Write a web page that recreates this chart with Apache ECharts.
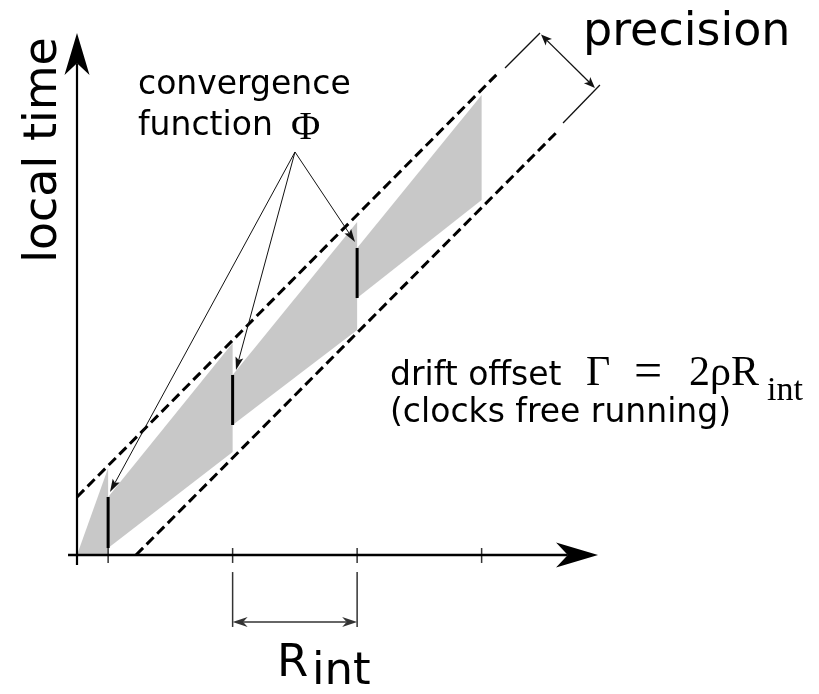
<!DOCTYPE html>
<html>
<head>
<meta charset="utf-8">
<script src="https://cdn.jsdelivr.net/npm/echarts@6/dist/echarts.min.js"></script>
<style>html,body{margin:0;padding:0;background:#fff}#c{width:819px;height:694px}</style>
</head>
<body>
<div id="c"></div>
<script>
// ---- diagram data (units: one resynchronisation interval R_int = 1) ----
const syncTimes = [0.25, 1.25, 2.25, 3.25];          // x-axis ticks
const convTop = [0.466, 1.446, 2.466];                 // convergence function: top of step
const convBot = [0.056, 1.044, 2.064];                 // convergence function: bottom of step
const bandT0 = [0, 0.25, 1.25, 2.25];
const bandT1 = [0.25, 1.25, 2.25, 3.25];
const bandTop0 = [0, 0.466, 1.446, 2.466];
const bandTop1 = [0.699, 1.703, 2.675, 3.695];
const bandBot0 = [0, 0.056, 1.044, 2.064];
const bandBot1 = [0, 0.827, 1.807, 2.851];
const upperBound = [[0, 0.466], [3.382, 3.871]];
const upperExt = [[3.438, 3.911], [3.719, 4.193]];
const lowerBound = [[0.474, 0], [3.855, 3.398]];
const lowerExt = [[3.904, 3.47], [4.2, 3.775]];
const precisionArrow = [[3.727, 4.18], [4.16, 3.752]];
const phiAnchor = [1.751, 3.237];
const phiTargets = [[0.265, 0.506], [1.277, 1.486], [2.233, 2.514]];
const xAxisLine = [[-0.072, 0], [4.185, 0]];
const yAxisLine = [[0, -0.08], [0, 4.193]];
const tickRange = [-0.064, 0.056];
const rintFrom = 1.25, rintTo = 2.25;
const rintRange = [-0.578, -0.137];
const rintLevel = -0.538;

const U = 124.5;
const xMin = -77 / U, xMax = (819 - 77) / U;
const yMin = -(694 - 555) / U, yMax = 555 / U;

function segSeries(segs, opt) {
  return {
    type: 'custom', coordinateSystem: 'cartesian2d', silent: true, clip: false,
    data: segs.map(s => [s[0][0], s[0][1], s[1][0], s[1][1]]),
    encode: { x: [0, 2], y: [1, 3] },
    renderItem: function (params, api) {
      const a = api.coord([api.value(0), api.value(1)]);
      const b = api.coord([api.value(2), api.value(3)]);
      const dx = b[0] - a[0], dy = b[1] - a[1];
      const L = Math.hypot(dx, dy), ux = dx / L, uy = dy / L, nx = -uy, ny = ux;
      const children = [];
      let p1 = a.slice(), p2 = b.slice();
      function head(tip, dirx, diry) {
        const h = opt.head;
        const bx = tip[0] - dirx * h.len, by = tip[1] - diry * h.len;
        return { type: 'polygon', shape: { points: [tip, [bx + nx * h.hw, by + ny * h.hw],
          [tip[0] - dirx * h.len * h.notch, tip[1] - diry * h.len * h.notch], [bx - nx * h.hw, by - ny * h.hw]] },
          style: { fill: opt.color } };
      }
      if (opt.end) { children.push(head(b, ux, uy)); p2 = [b[0] - ux * opt.head.len * opt.head.notch, b[1] - uy * opt.head.len * opt.head.notch]; }
      if (opt.start) { children.push(head(a, -ux, -uy)); p1 = [a[0] + ux * opt.head.len * opt.head.notch, a[1] + uy * opt.head.len * opt.head.notch]; }
      children.unshift({ type: 'line', shape: { x1: p1[0], y1: p1[1], x2: p2[0], y2: p2[1] },
        style: { stroke: opt.color, lineWidth: opt.width, lineDash: opt.dash || null, lineCap: opt.cap || 'butt' } });
      return { type: 'group', children: children };
    }
  };
}

const bandSeries = {
  type: 'custom', coordinateSystem: 'cartesian2d', silent: true, clip: false,
  data: bandT0.map((t, i) => [t, bandT1[i], bandTop0[i], bandTop1[i], bandBot0[i], bandBot1[i]]),
  encode: { x: [0, 1], y: [2, 3, 4, 5] },
  renderItem: function (params, api) {
    const pts = [[api.value(0), api.value(4)], [api.value(0), api.value(2)], [api.value(1), api.value(3)], [api.value(1), api.value(5)]]
      .map(p => api.coord(p));
    return { type: 'polygon', shape: { points: pts }, style: { fill: '#c8c8c8' } };
  }
};

const smallHead = { len: 13, hw: 4, notch: 0.8 };
const precHead = { len: 11, hw: 4.5, notch: 0.75 };
const dimHead = { len: 15, hw: 5, notch: 0.7 };
const axisHead = { len: 42, hw: 12.5, notch: 0.72 };

const series = [
  bandSeries,
  segSeries([upperBound, lowerBound], { color: '#000', width: 3, dash: [10, 5] }),
  segSeries([upperExt, lowerExt], { color: '#111', width: 1.3 }),
  segSeries([precisionArrow], { color: '#111', width: 1.3, start: true, end: true, head: precHead }),
  segSeries(syncTimes.slice(0, 3).map((t, i) => [[t, convBot[i]], [t, convTop[i]]]), { color: '#000', width: 3 }),
  segSeries(phiTargets.map(p => [phiAnchor, p]), { color: '#111', width: 1, end: true, head: smallHead }),
  segSeries(syncTimes.map(t => [[t, tickRange[0]], [t, tickRange[1]]]), { color: '#333', width: 1.5 }),
  segSeries([[[rintFrom, rintRange[0]], [rintFrom, rintRange[1]]], [[rintTo, rintRange[0]], [rintTo, rintRange[1]]]], { color: '#333', width: 1.5 }),
  segSeries([[[rintFrom, rintLevel], [rintTo, rintLevel]]], { color: '#333', width: 1.5, start: true, end: true, head: dimHead }),
  segSeries([xAxisLine], { color: '#000', width: 2.6, end: true, head: axisHead }),
  segSeries([yAxisLine], { color: '#000', width: 2.2, end: true, head: axisHead })
];

const sans = 'DejaVu Sans', serif = 'Liberation Serif';
function txt(text, x, y, size, font, extra) {
  return Object.assign({ type: 'text', x: x, y: y, silent: true,
    style: { text: text, fontSize: size, fontFamily: font, fill: '#000', align: 'left', verticalAlign: 'middle' } }, extra || {});
}
const graphic = [
  txt('local time', 44, 150, 46, sans, { rotation: Math.PI / 2, style: { text: 'local time', fontSize: 46, fontFamily: sans, fill: '#000', align: 'center', verticalAlign: 'middle' } }),
  txt('precision', 583, 33, 46, sans),
  txt('convergence', 138, 85.5, 33, sans),
  txt('function', 138, 126.5, 33, sans),
  txt('\u03A6', 291, 128, 40, serif),
  txt('drift offset', 390, 376.5, 33, sans),
  txt('\u0393', 586, 374, 42, serif),
  txt('=', 634, 374, 50, serif),
  txt('2\u03C1R', 689, 374, 42, serif),
  txt('int', 767, 391, 34, serif),
  txt('(clocks free running)', 390, 413.5, 33, sans),
  txt('R', 277, 664, 45, sans),
  txt('int', 312, 672, 45, sans)
];

const chart = echarts.init(document.getElementById('c'), null, { renderer: 'canvas' });
chart.setOption({
  animation: false,
  backgroundColor: '#fff',
  grid: { left: 0, right: 0, top: 0, bottom: 0 },
  xAxis: { type: 'value', min: xMin, max: xMax, show: false },
  yAxis: { type: 'value', min: yMin, max: yMax, show: false },
  series: series,
  graphic: graphic
});
</script>
</body>
</html>
